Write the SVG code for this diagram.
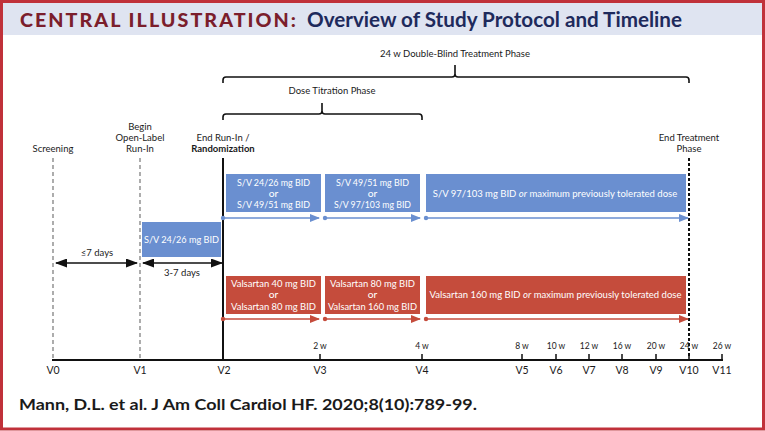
<svg xmlns="http://www.w3.org/2000/svg" width="765" height="431" viewBox="0 0 765 431">
<style>
text{font-family:Lato,"Noto Sans","Liberation Sans",sans-serif;}
.lbl{font-size:9.5px;fill:#1a1a1a;text-anchor:middle;}
.b{font-weight:bold;}
.box{font-size:10.3px;fill:#ffffff;text-anchor:middle;}
.wk{font-size:8.5px;fill:#1a1a1a;text-anchor:middle;}
.vk{font-size:10.5px;fill:#1a1a1a;text-anchor:middle;}
.blue{fill:#6a8fd0;}
.red{fill:#c54c3c;}
.bl{stroke:#6a8fd0;stroke-width:1.5;fill:none;}
.rl{stroke:#c54c3c;stroke-width:1.5;fill:none;}
.k{stroke:#111;stroke-width:1.6;fill:none;}
.gd{stroke:#8a8a8a;stroke-width:1.4;stroke-dasharray:4 3;fill:none;}
</style>
<defs>
<marker id="ab" markerWidth="10" markerHeight="8" refX="9" refY="4" orient="auto" markerUnits="userSpaceOnUse"><path d="M0,0 L10,4 L0,8 Z" fill="#6a8fd0"/></marker>
<marker id="ar" markerWidth="10" markerHeight="8" refX="9" refY="4" orient="auto" markerUnits="userSpaceOnUse"><path d="M0,0 L10,4 L0,8 Z" fill="#c54c3c"/></marker>
<marker id="ak" markerWidth="12" markerHeight="9" refX="11" refY="4.5" orient="auto-start-reverse" markerUnits="userSpaceOnUse"><path d="M0,0 L12,4.5 L0,9 Z" fill="#111"/></marker>
</defs>
<rect x="0" y="0" width="765" height="431" fill="#ffffff"/>
<rect x="3" y="3" width="759" height="32" fill="#dfe4f1"/>
<rect x="1.5" y="1.5" width="762" height="427.5" fill="none" stroke="#c0313a" stroke-width="3"/>
<g id="title">
<text x="20" y="27" font-size="19.5" font-weight="900" fill="#7b1e2c" letter-spacing="2" textLength="278" lengthAdjust="spacingAndGlyphs">CENTRAL ILLUSTRATION:</text>
<text x="307" y="27" font-size="20" font-weight="bold" fill="#1e2a5c" textLength="375" lengthAdjust="spacingAndGlyphs">Overview of Study Protocol and Timeline</text>
</g>
<g id="connectors">
<path class="k" d="M223,83 L223,80 Q223,77 226,77 L452,77 Q455,77 455,74 L455,65 M455,74 Q455,77 458,77 L686,77 Q689,77 689,80 L689,83"/>
<path class="k" d="M223,120 L223,117 Q223,114 226,114 L319,114 Q322,114 322,111 L322,103 M322,111 Q322,114 325,114 L419,114 Q422,114 422,117 L422,120"/>
<line class="gd" x1="53" y1="158" x2="53" y2="358"/>
<line class="gd" x1="140" y1="158" x2="140" y2="358"/>
<line x1="223" y1="158" x2="223" y2="360" stroke="#111" stroke-width="2"/>
<line x1="689" y1="158" x2="689" y2="358" stroke="#111" stroke-width="2" stroke-dasharray="3 2"/>
<line x1="52" y1="360" x2="723" y2="360" stroke="#111" stroke-width="2"/>
<path stroke="#111" stroke-width="1.5" d="M320,354V360M422,354V360M522,354V360M556,354V360M589,354V360M622,354V360M656,354V360M689,354V360M722,354V360"/>
<line class="k" x1="56" y1="263" x2="137" y2="263" marker-start="url(#ak)" marker-end="url(#ak)"/>
<line class="k" x1="143" y1="263" x2="222" y2="263" marker-start="url(#ak)" marker-end="url(#ak)"/>
<line class="bl" x1="223" y1="218" x2="319" y2="218" marker-end="url(#ab)"/>
<line class="bl" x1="325" y1="218" x2="420" y2="218" marker-end="url(#ab)"/>
<line class="bl" x1="426" y1="218" x2="688" y2="218" marker-end="url(#ab)"/>
<circle class="blue" cx="223" cy="218" r="2.2"/>
<circle class="blue" cx="325" cy="218" r="2.2"/>
<circle class="blue" cx="426" cy="218" r="2.2"/>
<line class="rl" x1="223" y1="319" x2="319" y2="319" marker-end="url(#ar)"/>
<line class="rl" x1="325" y1="319" x2="420" y2="319" marker-end="url(#ar)"/>
<line class="rl" x1="426" y1="319" x2="688" y2="319" marker-end="url(#ar)"/>
<circle class="red" cx="223" cy="319" r="2.2"/>
<circle class="red" cx="325" cy="319" r="2.2"/>
<circle class="red" cx="426" cy="319" r="2.2"/>
</g>
<g id="phase-labels">
<text class="lbl" x="455" y="57">24 w Double-Blind Treatment Phase</text>
<text class="lbl" x="332" y="94">Dose Titration Phase</text>
<text class="lbl" x="53" y="152">Screening</text>
<text class="lbl" x="140" y="130">Begin</text>
<text class="lbl" x="140" y="141">Open-Label</text>
<text class="lbl" x="140" y="152">Run-In</text>
<text class="lbl" x="223" y="141">End Run-In /</text>
<text class="lbl b" x="223" y="152">Randomization</text>
<text class="lbl" x="689" y="141">End Treatment</text>
<text class="lbl" x="689" y="152">Phase</text>
<text class="lbl" x="97" y="256">≤7 days</text>
<text class="lbl" x="182" y="276">3-7 days</text>
</g>
<g id="runin-box">
<rect class="blue" x="142" y="222" width="79" height="35"/>
<text class="box" x="181.5" y="243" textLength="75" lengthAdjust="spacingAndGlyphs">S/V 24/26 mg BID</text>
</g>
<g id="sv-box1">
<rect class="blue" x="226" y="174" width="95" height="38"/>
<text class="box" x="273.5" y="185.5" textLength="73" lengthAdjust="spacingAndGlyphs">S/V 24/26 mg BID</text>
<text class="box" x="273.5" y="196.5">or</text>
<text class="box" x="273.5" y="207.5" textLength="73" lengthAdjust="spacingAndGlyphs">S/V 49/51 mg BID</text>
</g>
<g id="sv-box2">
<rect class="blue" x="325" y="174" width="95" height="38"/>
<text class="box" x="372.5" y="185.5" textLength="73" lengthAdjust="spacingAndGlyphs">S/V 49/51 mg BID</text>
<text class="box" x="372.5" y="196.5">or</text>
<text class="box" x="372.5" y="207.5" textLength="77" lengthAdjust="spacingAndGlyphs">S/V 97/103 mg BID</text>
</g>
<g id="sv-box3">
<rect class="blue" x="426" y="174" width="260" height="38"/>
<text class="box" x="555" y="196.5" style="font-size:9.5px">S/V 97/103 mg BID <tspan font-style="italic">or</tspan> maximum previously tolerated dose</text>
</g>
<g id="val-box1">
<rect class="red" x="226" y="276" width="95" height="38"/>
<text class="box" x="273.5" y="287" textLength="85" lengthAdjust="spacingAndGlyphs">Valsartan 40 mg BID</text>
<text class="box" x="273.5" y="298">or</text>
<text class="box" x="273.5" y="309.5" textLength="85" lengthAdjust="spacingAndGlyphs">Valsartan 80 mg BID</text>
</g>
<g id="val-box2">
<rect class="red" x="325" y="276" width="95" height="38"/>
<text class="box" x="372.5" y="287" textLength="85" lengthAdjust="spacingAndGlyphs">Valsartan 80 mg BID</text>
<text class="box" x="372.5" y="298">or</text>
<text class="box" x="372.5" y="309.5" textLength="89" lengthAdjust="spacingAndGlyphs">Valsartan 160 mg BID</text>
</g>
<g id="val-box3">
<rect class="red" x="426" y="276" width="260" height="38"/>
<text class="box" x="555.5" y="298" style="font-size:9.5px">Valsartan 160 mg BID <tspan font-style="italic">or</tspan> maximum previously tolerated dose</text>
</g>
<g id="axis-labels">
<text class="wk" x="320" y="349">2 w</text>
<text class="wk" x="422" y="349">4 w</text>
<text class="wk" x="522" y="349">8 w</text>
<text class="wk" x="556" y="349">10 w</text>
<text class="wk" x="589" y="349">12 w</text>
<text class="wk" x="622" y="349">16 w</text>
<text class="wk" x="656" y="349">20 w</text>
<text class="wk" x="689" y="349">24 w</text>
<text class="wk" x="722" y="349">26 w</text>
<text class="vk" x="53" y="374">V0</text>
<text class="vk" x="140" y="374">V1</text>
<text class="vk" x="224" y="374">V2</text>
<text class="vk" x="320" y="374">V3</text>
<text class="vk" x="422" y="374">V4</text>
<text class="vk" x="522" y="374">V5</text>
<text class="vk" x="556" y="374">V6</text>
<text class="vk" x="589" y="374">V7</text>
<text class="vk" x="622" y="374">V8</text>
<text class="vk" x="656" y="374">V9</text>
<text class="vk" x="689" y="374">V10</text>
<text class="vk" x="722" y="374">V11</text>
</g>
<g id="citation">
<text x="19" y="410" font-size="16" font-weight="bold" fill="#1a1a1a" textLength="458" lengthAdjust="spacingAndGlyphs">Mann, D.L. et al. J Am Coll Cardiol HF. 2020;8(10):789-99.</text>
</g>
</svg>
